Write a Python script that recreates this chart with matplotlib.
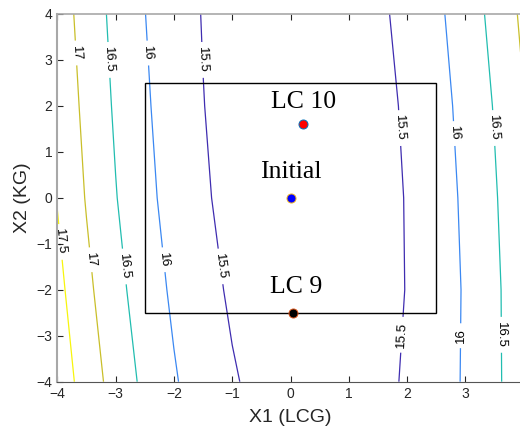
import matplotlib.pyplot as plt
import numpy as np
from matplotlib.patches import Rectangle

plt.rcParams['font.family'] = ['Liberation Sans', 'DejaVu Sans']

# grid of the response surface
x_grid = [-4, -3.5, -3, -2.5, -2, -1.5, -1, -0.5, 0, 0.5, 1, 1.5, 2, 2.5, 3, 3.5, 4]
y_grid = [-4, -2, 0, 2, 4]
z_rows = [
    [17.814, 17.277, 16.803, 16.393, 16.045, 15.761, 15.541, 15.383, 15.289, 15.258, 15.290, 15.386, 15.545, 15.767, 16.052, 16.400, 16.812],
    [17.639, 17.114, 16.652, 16.254, 15.919, 15.647, 15.438, 15.292, 15.210, 15.191, 15.236, 15.343, 15.514, 15.748, 16.045, 16.406, 16.829],
    [17.480, 16.969, 16.521, 16.137, 15.815, 15.557, 15.362, 15.231, 15.163, 15.158, 15.216, 15.337, 15.522, 15.770, 16.081, 16.455, 16.893],
    [17.373, 16.874, 16.438, 16.066, 15.756, 15.510, 15.328, 15.208, 15.152, 15.159, 15.229, 15.362, 15.559, 15.819, 16.142, 16.529, 16.978],
    [17.274, 16.789, 16.367, 16.008, 15.713, 15.481, 15.312, 15.206, 15.164, 15.185, 15.269, 15.416, 15.627, 15.901, 16.238, 16.638, 17.102],
]
levels = [15.5, 16, 16.5, 17, 17.5]
level_colors = ['#3f2db0', '#3b88f2', '#22bdb0', '#c9bf2a', '#f7f50c']

# label spots
label_spots = [(-3.70, 3.15), (-3.12, 3.0), (-2.45, 3.15), (-1.52, 3.0),
               (-3.95, -0.96), (-3.45, -1.35), (-2.90, -1.5), (-2.2, -1.35), (-1.25, -1.5),
               (1.9, 1.52), (2.83, 1.4), (3.5, 1.52), (3.97, 2.9),
               (1.92, -2.98), (2.92, -3.0), (3.62, -2.98)]

box_x = [-2.5, 2.5]
box_y = [-2.5, 2.5]

pt_names = ['LC 10', 'Initial', 'LC 9']
pt_x = [0.21, 0.0, 0.05]
pt_y = [1.6, 0.0, -2.5]
pt_face = ['#ff0000', '#0000ff', '#000000']
pt_edge = ['#0072bd', '#edb120', '#d95319']
txt_x = [0.22, 0.0, 0.09]
txt_y = [1.96, 0.43, -2.07]

fig = plt.figure(figsize=(5.2, 4.33), dpi=100)
ax = fig.add_axes([0.1102, 0.1185, 0.897, 0.8492])

X, Y = np.meshgrid(x_grid, y_grid)
Z = np.array(z_rows)
cs = ax.contour(X, Y, Z, levels=levels, colors=level_colors, linewidths=0.9)
ax.clabel(cs, manual=label_spots, inline=True, fontsize=9.5, fmt='%g',
          colors='k', inline_spacing=5)

ax.add_patch(Rectangle((box_x[0], box_y[0]), box_x[1] - box_x[0], box_y[1] - box_y[0],
                       fill=False, edgecolor='k', linewidth=1.0, zorder=3))

for i in range(len(pt_names)):
    ax.plot(pt_x[i], pt_y[i], 'o', ms=6.5, mfc=pt_face[i], mec=pt_edge[i], mew=0.7, zorder=4)
    ax.text(txt_x[i], txt_y[i], pt_names[i], ha='center', va='baseline',
            fontsize=18.5, family='Liberation Serif', zorder=5)

ax.set_xlim(-4, 4)
ax.set_ylim(-4, 4)
ax.set_xticks(np.arange(-4, 4))
ax.set_yticks(np.arange(-4, 5))
ax.tick_params(direction='in', length=4, top=True, labelsize=10, colors='#262626', width=0.8)
ax.set_xlabel('X1 (LCG)', fontsize=14, color='#262626', labelpad=6)
ax.set_ylabel('X2 (KG)', fontsize=14, color='#262626', labelpad=4)
ax.spines['left'].set_color('#a8a8a8')
ax.spines['left'].set_linewidth(1.5)
ax.spines['top'].set_color('#a8a8a8')
ax.spines['top'].set_linewidth(1.2)
ax.spines['bottom'].set_color('#555555')
ax.spines['right'].set_visible(False)

fig.savefig('out.png', dpi=100)
